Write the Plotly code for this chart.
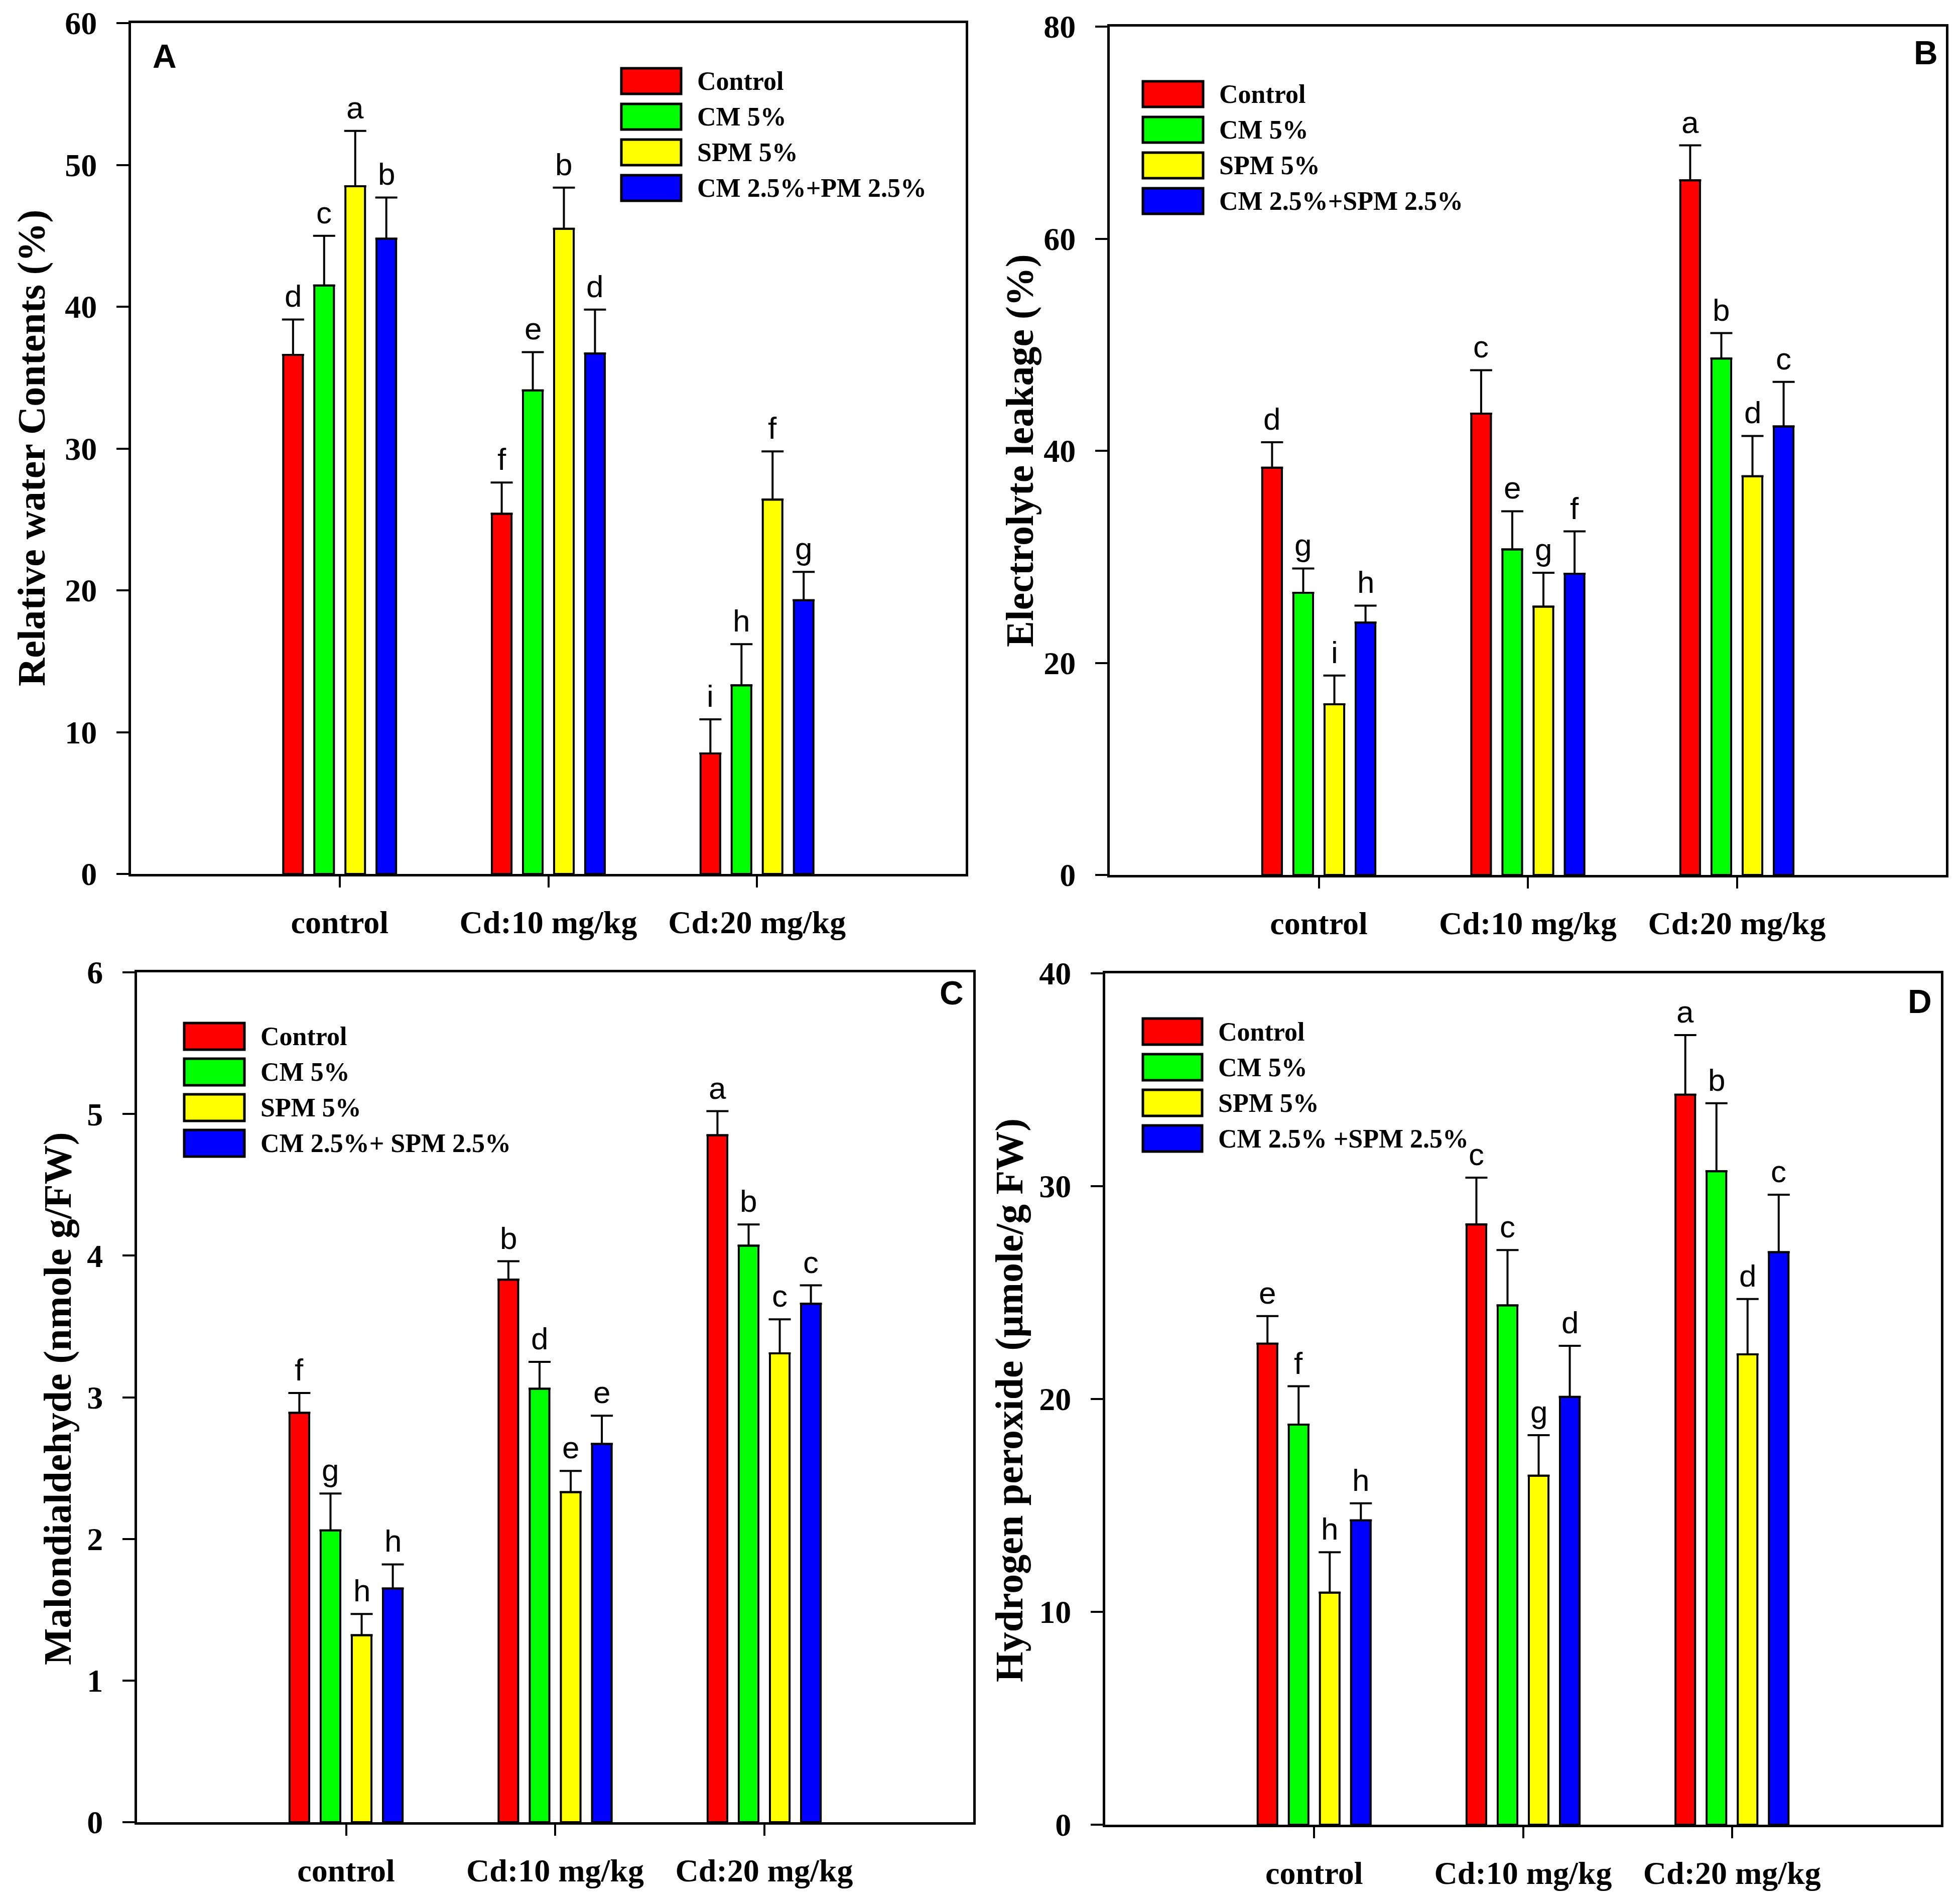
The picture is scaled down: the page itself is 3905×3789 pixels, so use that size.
import plotly.graph_objects as go

W, H = 3905, 3789
OFF = 8  # page body margin
FW, FH = W - 2 * OFF, H - 2 * OFF

categories = ["control", "Cd:10 mg/kg", "Cd:20 mg/kg"]
colors = ["#FF0000", "#00FF00", "#FFFF00", "#0000FF"]

# ---------------- Panel A : Relative water contents (%)
a_names = ["Control", "CM 5%", "SPM 5%", "CM 2.5%+PM 2.5%"]
a_control = [36.6, 25.4, 8.5]
a_cm5 = [41.5, 34.1, 13.3]
a_spm5 = [48.5, 45.5, 26.4]
a_mix = [44.8, 36.7, 19.3]
a_err_control = [2.5, 2.2, 2.4]
a_err_cm5 = [3.5, 2.7, 2.9]
a_err_spm5 = [3.9, 2.9, 3.4]
a_err_mix = [2.9, 3.1, 2.0]
a_let_control = ["d", "f", "i"]
a_let_cm5 = ["c", "e", "h"]
a_let_spm5 = ["a", "b", "f"]
a_let_mix = ["b", "d", "g"]

# ---------------- Panel B : Electrolyte leakage (%)
b_names = ["Control", "CM 5%", "SPM 5%", "CM 2.5%+SPM 2.5%"]
b_control = [38.4, 43.5, 65.5]
b_cm5 = [26.6, 30.7, 48.7]
b_spm5 = [16.1, 25.3, 37.6]
b_mix = [23.8, 28.4, 42.3]
b_err_control = [2.4, 4.1, 3.3]
b_err_cm5 = [2.3, 3.6, 2.4]
b_err_spm5 = [2.7, 3.2, 3.8]
b_err_mix = [1.6, 4.0, 4.2]
b_let_control = ["d", "c", "a"]
b_let_cm5 = ["g", "e", "b"]
b_let_spm5 = ["i", "g", "d"]
b_let_mix = ["h", "f", "c"]

# ---------------- Panel C : Malondialdehyde
c_names = ["Control", "CM 5%", "SPM 5%", "CM 2.5%+ SPM 2.5%"]
c_control = [2.89, 3.83, 4.85]
c_cm5 = [2.06, 3.06, 4.07]
c_spm5 = [1.32, 2.33, 3.31]
c_mix = [1.65, 2.67, 3.66]
c_err_control = [0.14, 0.13, 0.17]
c_err_cm5 = [0.26, 0.19, 0.15]
c_err_spm5 = [0.15, 0.15, 0.24]
c_err_mix = [0.17, 0.20, 0.13]
c_let_control = ["f", "b", "a"]
c_let_cm5 = ["g", "d", "b"]
c_let_spm5 = ["h", "e", "c"]
c_let_mix = ["h", "e", "c"]

# ---------------- Panel D : Hydrogen peroxide
d_names = ["Control", "CM 5%", "SPM 5%", "CM 2.5% +SPM 2.5%"]
d_control = [22.6, 28.2, 34.3]
d_cm5 = [18.8, 24.4, 30.7]
d_spm5 = [10.9, 16.4, 22.1]
d_mix = [14.3, 20.1, 26.9]
d_err_control = [1.3, 2.2, 2.8]
d_err_cm5 = [1.8, 2.6, 3.2]
d_err_spm5 = [1.9, 1.9, 2.6]
d_err_mix = [0.8, 2.4, 2.7]
d_let_control = ["e", "c", "a"]
d_let_cm5 = ["f", "c", "b"]
d_let_spm5 = ["h", "g", "d"]
d_let_mix = ["h", "d", "c"]

SERIF = "Liberation Serif"
SANS = "Liberation Sans"
BARGAP = 0.404
GROUPGAP = 0.37


def px(x):
    return (x - OFF) / FW


def py(y):
    return 1 - (y - OFF) / FH


panels = [
    dict(key="", names=a_names,
         vals=[a_control, a_cm5, a_spm5, a_mix],
         errs=[a_err_control, a_err_cm5, a_err_spm5, a_err_mix],
         lets=[a_let_control, a_let_cm5, a_let_spm5, a_let_mix],
         ymax=60, dtick=10, box=(261, 1924, 46, 1741),
         title="Relative water Contents (%)", title_xy=(62, 893),
         label="A", label_xy=(328, 112),
         leg=(1238, 1357, 136, 187)),
    dict(key="2", names=b_names,
         vals=[b_control, b_cm5, b_spm5, b_mix],
         errs=[b_err_control, b_err_cm5, b_err_spm5, b_err_mix],
         lets=[b_let_control, b_let_cm5, b_let_spm5, b_let_mix],
         ymax=80, dtick=20, box=(2211, 3877, 53, 1743),
         title="Electrolyte leakage (%)", title_xy=(2031, 898),
         label="B", label_xy=(3837, 105),
         leg=(2277, 2397, 162, 213)),
    dict(key="3", names=c_names,
         vals=[c_control, c_cm5, c_spm5, c_mix],
         errs=[c_err_control, c_err_cm5, c_err_spm5, c_err_mix],
         lets=[c_let_control, c_let_cm5, c_let_spm5, c_let_mix],
         ymax=6, dtick=1, box=(273, 1939, 1937, 3630),
         title="Malondialdehyde (nmole g/FW)", title_xy=(114, 2786),
         label="C", label_xy=(1896, 1978),
         leg=(367, 487, 2038, 2091)),
    dict(key="4", names=d_names,
         vals=[d_control, d_cm5, d_spm5, d_mix],
         errs=[d_err_control, d_err_cm5, d_err_spm5, d_err_mix],
         lets=[d_let_control, d_let_cm5, d_let_spm5, d_let_mix],
         ymax=40, dtick=10, box=(2202, 3867, 1939, 3635),
         title="Hydrogen peroxide (µmole/g FW)", title_xy=(2010, 2789),
         label="D", label_xy=(3825, 1995),
         leg=(2277, 2395, 2029, 2081)),
]

fig = go.Figure()
annotations = []
shapes = []
xpos = [1, 2, 3]
slot = (1 - BARGAP) / 4
layout = {}

for p in panels:
    k = p["key"]
    xa, ya = "x" + k, "y" + k
    for i in range(4):
        fig.add_trace(go.Bar(
            x=xpos, y=p["vals"][i], name=p["names"][i],
            xaxis=xa, yaxis=ya, showlegend=False,
            marker=dict(color=colors[i], line=dict(color="black", width=4)),
            error_y=dict(type="data", array=p["errs"][i],
                         arrayminus=[0] * 3, symmetric=False,
                         color="black", thickness=4, width=22),
        ))
        for j in range(3):
            annotations.append(dict(
                x=xpos[j] + (i - 1.5) * slot,
                y=p["vals"][i][j] + p["errs"][i][j],
                xref=xa, yref=ya, text=p["lets"][i][j],
                showarrow=False, yanchor="bottom", xanchor="center",
                yshift=10, font=dict(family=SANS, size=62, color="black")))
    x0, x1, y0, y1 = p["box"]
    layout["xaxis" + k] = dict(
        domain=[px(x0), px(x1)], anchor=ya, range=[0, 4],
        tickvals=xpos, ticktext=categories, automargin=False,
        showline=True, linecolor="black", linewidth=5, mirror=True,
        ticks="outside", ticklen=22, tickwidth=4, tickcolor="black",
        showgrid=False, zeroline=False, ticklabelstandoff=14,
        tickfont=dict(family=SERIF, size=64, color="black", weight="bold"))
    layout["yaxis" + k] = dict(
        domain=[py(y1), py(y0)], anchor=xa, range=[0, p["ymax"]],
        dtick=p["dtick"], tick0=0, automargin=False,
        showline=True, linecolor="black", linewidth=5, mirror=True,
        ticks="outside", ticklen=24, tickwidth=4, tickcolor="black",
        showgrid=False, zeroline=False, ticklabelstandoff=26,
        tickfont=dict(family=SERIF, size=64, color="black", weight="bold"))
    # y title
    annotations.append(dict(
        x=px(p["title_xy"][0]), y=py(p["title_xy"][1]), xref="paper", yref="paper",
        text=p["title"], textangle=-90, showarrow=False,
        xanchor="center", yanchor="middle",
        font=dict(family=SERIF, size=78, color="black", weight="bold")))
    # panel label
    annotations.append(dict(
        x=px(p["label_xy"][0]), y=py(p["label_xy"][1]), xref="paper", yref="paper",
        text=p["label"], showarrow=False, xanchor="center", yanchor="middle",
        font=dict(family=SANS, size=66, color="black", weight="bold")))
    # legend (drawn swatches + labels)
    lx0, lx1, ly0, ly1 = p["leg"]
    step = 71
    for i in range(4):
        t0 = ly0 + i * step
        t1 = ly1 + i * step
        shapes.append(dict(
            type="rect", xref="paper", yref="paper",
            x0=px(lx0), x1=px(lx1), y0=py(t1), y1=py(t0),
            fillcolor=colors[i], line=dict(color="black", width=5)))
        annotations.append(dict(
            x=px(lx1 + 30), y=py((t0 + t1) / 2), xref="paper", yref="paper",
            text=p["names"][i], showarrow=False, xanchor="left", yanchor="middle",
            font=dict(family=SERIF, size=52, color="black", weight="bold")))

fig.update_layout(
    width=FW, height=FH, autosize=False,
    margin=dict(l=0, r=0, t=0, b=0, pad=0),
    paper_bgcolor="white", plot_bgcolor="white",
    barmode="group", bargap=BARGAP, bargroupgap=GROUPGAP,
    annotations=annotations, shapes=shapes,
    **layout,
)

fig.write_html("out.html")
